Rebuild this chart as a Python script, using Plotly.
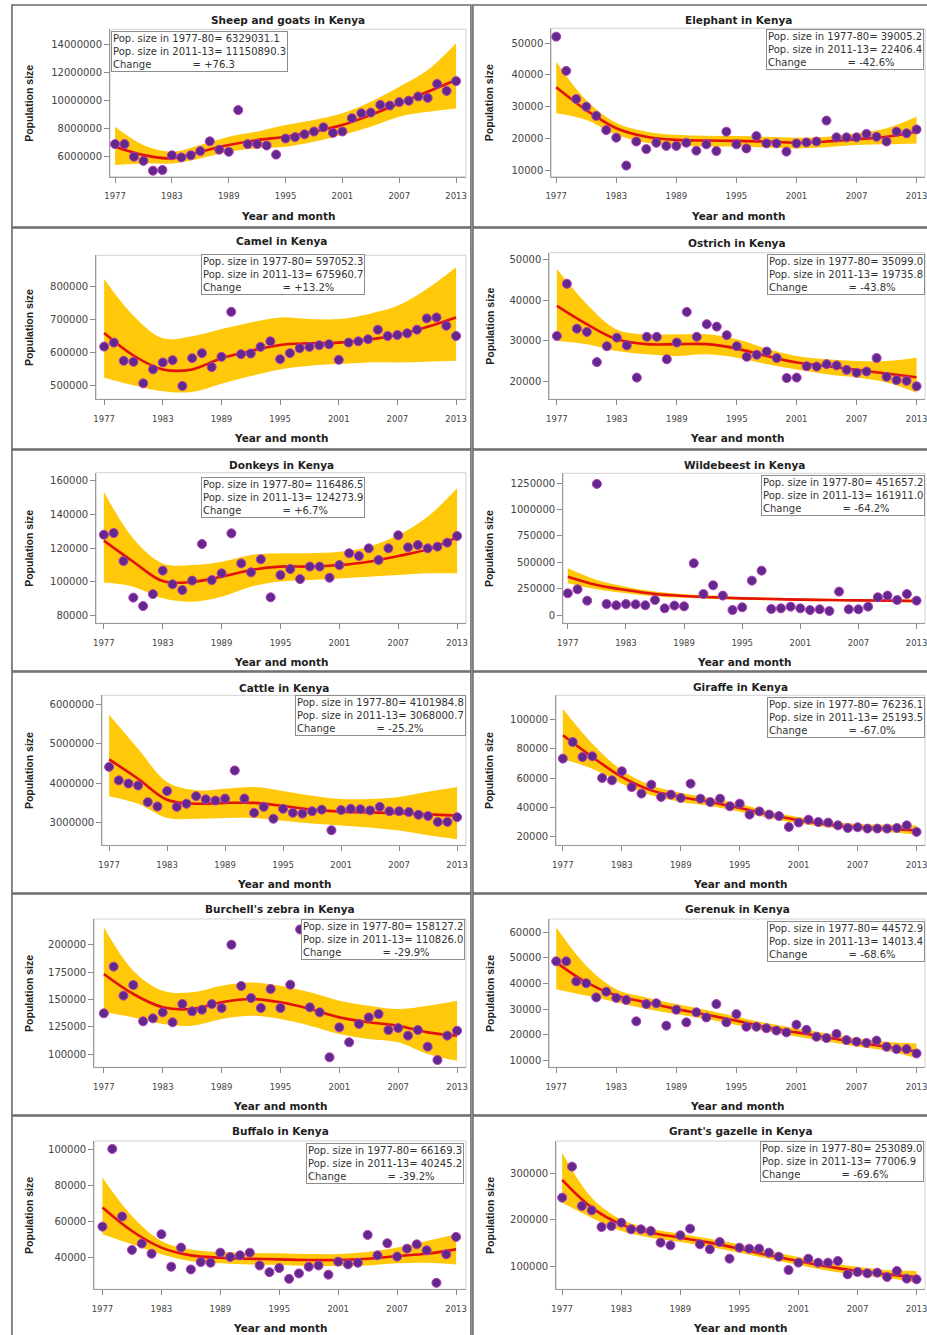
import plotly.graph_objects as go

W, H = 927, 1335

YEARS = [1977, 1978, 1979, 1980, 1981, 1982, 1983, 1984, 1985, 1986, 1987, 1988, 1989,
         1990, 1991, 1992, 1993, 1994, 1995, 1996, 1997, 1998, 1999, 2000, 2001, 2002,
         2003, 2004, 2005, 2006, 2007, 2008, 2009, 2010, 2011, 2012, 2013]
FIT_YEARS = [1977, 1980, 1983, 1986, 1989, 1992, 1995, 1998, 2001, 2004, 2007, 2010, 2013]
X_TICKS = [1977, 1983, 1989, 1995, 2001, 2007, 2013]
X_TICK_TEXT = ["1977", "1983", "1989", "1995", "2001", "2007", "2013"]

# ---------------- Sheep and goats ----------------
sheep_pop = [6.9e6, 6.9e6, 6.0e6, 5.7e6, 5.0e6, 5.05e6, 6.1e6, 5.95e6, 6.1e6, 6.4e6, 7.1e6, 6.5e6, 6.35e6,
             9.33e6, 6.9e6, 6.9e6, 6.8e6, 6.15e6, 7.3e6, 7.4e6, 7.6e6, 7.8e6, 8.1e6, 7.7e6, 7.8e6, 8.75e6,
             9.1e6, 9.15e6, 9.7e6, 9.65e6, 9.9e6, 10.0e6, 10.3e6, 10.2e6, 11.2e6, 10.7e6, 11.4e6]
sheep_fit = [6.71e6, 6.12e6, 5.88e6, 6.36e6, 6.83e6, 7.19e6, 7.43e6, 7.79e6, 8.26e6, 8.98e6, 9.81e6, 10.64e6, 11.48e6]
sheep_hi = [8.14e6, 6.83e6, 6.36e6, 6.83e6, 7.43e6, 7.79e6, 8.26e6, 8.62e6, 9.10e6, 9.93e6, 11.0e6, 12.19e6, 14.1e6]
sheep_lo = [5.40e6, 5.52e6, 5.52e6, 5.88e6, 6.36e6, 6.60e6, 6.71e6, 7.07e6, 7.55e6, 8.14e6, 8.86e6, 9.21e6, 9.45e6]
sheep_yticks = [6000000, 8000000, 10000000, 12000000, 14000000]
sheep_note = ["Pop. size in 1977-80= 6329031.1", "Pop. size in 2011-13= 11150890.3", "+76.3"]

# ---------------- Elephant ----------------
elephant_pop = [52100, 41300, 32400, 30000, 27100, 22600, 20200, 11400, 19000, 16600, 18600, 17600, 17600,
                18600, 16100, 18100, 16000, 22100, 18100, 16800, 20700, 18400, 18400, 15800, 18400, 18700,
                19000, 25600, 20300, 20300, 20300, 21400, 20500, 19000, 22100, 21600, 22800]
elephant_fit = [36100, 28900, 23200, 20500, 19500, 19300, 19200, 19000, 18600, 19000, 19700, 20500, 22100]
elephant_hi = [44200, 32100, 24900, 22100, 21100, 20800, 20700, 20500, 20200, 20500, 21600, 23200, 26800]
elephant_lo = [27900, 25800, 21100, 18600, 17900, 17400, 17400, 17100, 16800, 17200, 17900, 18100, 18400]
elephant_yticks = [10000, 20000, 30000, 40000, 50000]
elephant_note = ["Pop. size in 1977-80= 39005.2", "Pop. size in 2011-13= 22406.4", "-42.6%"]

# ---------------- Camel ----------------
camel_pop = [617e3, 629e3, 574e3, 571e3, 506e3, 548e3, 569e3, 576e3, 498e3, 582e3, 597e3, 555e3, 586e3,
             722e3, 594e3, 596e3, 616e3, 633e3, 579e3, 597e3, 612e3, 616e3, 621e3, 624e3, 577e3, 629e3,
             633e3, 639e3, 668e3, 649e3, 652e3, 657e3, 668e3, 702e3, 705e3, 680e3, 649e3]
camel_fit = [658e3, 590e3, 548e3, 548e3, 582e3, 604e3, 622e3, 627e3, 629e3, 638e3, 652e3, 676e3, 705e3]
camel_hi = [821e3, 710e3, 642e3, 648e3, 670e3, 690e3, 705e3, 700e3, 700e3, 715e3, 740e3, 791e3, 857e3]
camel_lo = [523e3, 500e3, 482e3, 480e3, 505e3, 528e3, 548e3, 559e3, 564e3, 569e3, 569e3, 571e3, 574e3]
camel_yticks = [500000, 600000, 700000, 800000]
camel_note = ["Pop. size in 1977-80= 597052.3", "Pop. size in 2011-13= 675960.7", "+13.2%"]

# ---------------- Ostrich ----------------
ostrich_pop = [31200, 44000, 33000, 32200, 24800, 28700, 30800, 28900, 21000, 31000, 31000, 25500, 29600,
               37100, 31000, 34100, 33500, 31400, 28700, 26100, 26600, 27400, 25800, 20900, 21000, 23800,
               23700, 24300, 24000, 22900, 22200, 22500, 25800, 21200, 20400, 20200, 18900]
ostrich_fit = [38600, 34100, 30400, 29200, 29200, 29200, 28100, 26300, 24700, 23800, 22900, 22000, 21100]
ostrich_hi = [47600, 39000, 32800, 31600, 31600, 31600, 30400, 28100, 26300, 25500, 25100, 25100, 25900]
ostrich_lo = [30000, 29200, 27500, 26700, 26300, 26700, 25900, 24300, 23000, 21800, 21000, 19800, 17300]
ostrich_yticks = [20000, 30000, 40000, 50000]
ostrich_note = ["Pop. size in 1977-80= 35099.0", "Pop. size in 2011-13= 19735.8", "-43.8%"]

# ---------------- Donkeys ----------------
donkey_pop = [128000, 129000, 112400, 90700, 85700, 92800, 106700, 98600, 95200, 100800, 122500, 101100, 105100,
              128800, 111000, 105700, 113400, 90900, 104100, 107700, 101700, 109100, 109100, 102500, 110000, 117000,
              115400, 119900, 113000, 119900, 127600, 120500, 121900, 119900, 120900, 123300, 127200]
donkey_fit = [124500, 112000, 100500, 100000, 103100, 107100, 109100, 109100, 110000, 112000, 115400, 119300, 126400]
donkey_hi = [153500, 125800, 111000, 110000, 112000, 116000, 117000, 117000, 117900, 120900, 127800, 138700, 155500]
donkey_lo = [99600, 97200, 90300, 88300, 91300, 97200, 100200, 101100, 102100, 103100, 104100, 105100, 105100]
donkey_yticks = [80000, 100000, 120000, 140000, 160000]
donkey_note = ["Pop. size in 1977-80= 116486.5", "Pop. size in 2011-13= 124273.9", "+6.7%"]

# ---------------- Wildebeest ----------------
wildebeest_pop = [206e3, 244e3, 136e3, 1244e3, 104e3, 92e3, 104e3, 101e3, 92e3, 142e3, 63e3, 89e3, 82e3,
                  491e3, 199e3, 282e3, 184e3, 47e3, 73e3, 326e3, 421e3, 57e3, 63e3, 79e3, 63e3, 47e3,
                  54e3, 38e3, 222e3, 54e3, 54e3, 79e3, 168e3, 184e3, 142e3, 199e3, 136e3]
wildebeest_fit = [364e3, 285e3, 237e3, 199e3, 180e3, 168e3, 158e3, 152e3, 146e3, 142e3, 139e3, 136e3, 133e3]
wildebeest_hi = [443e3, 332e3, 269e3, 222e3, 198e3, 184e3, 172e3, 165e3, 158e3, 154e3, 151e3, 150e3, 150e3]
wildebeest_lo = [301e3, 244e3, 206e3, 178e3, 163e3, 153e3, 145e3, 139e3, 134e3, 130e3, 127e3, 123e3, 117e3]
wildebeest_yticks = [0, 250000, 500000, 750000, 1000000, 1250000]
wildebeest_note = ["Pop. size in 1977-80= 451657.2", "Pop. size in 2011-13= 161911.0", "-64.2%"]

# ---------------- Cattle ----------------
cattle_pop = [4.41e6, 4.07e6, 3.99e6, 3.94e6, 3.52e6, 3.41e6, 3.80e6, 3.40e6, 3.48e6, 3.67e6, 3.59e6, 3.56e6, 3.61e6,
              4.32e6, 3.61e6, 3.25e6, 3.40e6, 3.10e6, 3.35e6, 3.25e6, 3.23e6, 3.29e6, 3.33e6, 2.81e6, 3.32e6, 3.35e6,
              3.34e6, 3.31e6, 3.40e6, 3.29e6, 3.29e6, 3.27e6, 3.20e6, 3.17e6, 3.02e6, 3.02e6, 3.14e6]
cattle_fit = [4.60e6, 4.11e6, 3.58e6, 3.48e6, 3.50e6, 3.50e6, 3.42e6, 3.33e6, 3.28e6, 3.26e6, 3.24e6, 3.21e6, 3.18e6]
cattle_hi = [5.73e6, 4.87e6, 4.03e6, 3.82e6, 3.86e6, 3.90e6, 3.80e6, 3.68e6, 3.60e6, 3.60e6, 3.65e6, 3.78e6, 3.90e6]
cattle_lo = [3.67e6, 3.48e6, 3.12e6, 3.10e6, 3.12e6, 3.12e6, 3.05e6, 2.98e6, 2.93e6, 2.88e6, 2.80e6, 2.68e6, 2.58e6]
cattle_yticks = [3000000, 4000000, 5000000, 6000000]
cattle_note = ["Pop. size in 1977-80= 4101984.8", "Pop. size in 2011-13= 3068000.7", "-25.2%"]

# ---------------- Giraffe ----------------
giraffe_pop = [73300, 84700, 74400, 74900, 60000, 58400, 64600, 53800, 49300, 55400, 47000, 48600, 46300,
               56100, 45800, 43500, 45800, 40600, 42400, 34900, 37100, 34900, 33900, 26400, 29400, 31400,
               29800, 29400, 27500, 25700, 26200, 25300, 25300, 25300, 25700, 27500, 23000]
giraffe_fit = [89300, 74400, 60700, 51500, 47000, 43500, 39400, 34900, 31000, 28000, 26200, 25300, 24100]
giraffe_hi = [107500, 83500, 65300, 55000, 49900, 46300, 42400, 37100, 33300, 30300, 28400, 27900, 27500]
giraffe_lo = [72800, 66400, 56100, 48100, 43500, 40800, 36800, 32600, 28800, 26200, 24300, 22900, 21100]
giraffe_yticks = [20000, 40000, 60000, 80000, 100000]
giraffe_note = ["Pop. size in 1977-80= 76236.1", "Pop. size in 2011-13= 25193.5", "-67.0%"]

# ---------------- Burchell's zebra ----------------
zebra_pop = [137200, 179900, 153400, 163100, 129900, 132600, 138100, 129000, 145700, 139000, 140500, 145700, 142100,
             200000, 162200, 151200, 142100, 159500, 142100, 163400, 214000, 142700, 138100, 97000, 124400, 110700,
             127400, 133500, 136600, 122000, 123800, 116800, 122000, 106700, 94500, 116800, 121300]
zebra_fit = [173200, 154900, 142700, 141200, 147300, 150300, 147300, 141200, 133500, 129000, 125900, 119800, 116800]
zebra_hi = [215900, 176200, 157900, 156400, 162500, 165500, 162500, 156400, 148800, 144200, 141200, 144200, 148800]
zebra_lo = [138100, 133500, 127400, 125900, 132000, 135100, 132000, 125900, 118300, 113700, 110700, 100000, 93900]
zebra_yticks = [100000, 125000, 150000, 175000, 200000]
zebra_note = ["Pop. size in 1977-80= 158127.2", "Pop. size in 2011-13= 110826.0", "-29.9%"]

# ---------------- Gerenuk ----------------
gerenuk_pop = [48600, 48600, 40800, 40100, 34600, 36800, 34400, 33600, 25300, 32000, 32300, 23600, 29800,
               24900, 28800, 26800, 32000, 24900, 28100, 23200, 23200, 22600, 21700, 21000, 24000, 22000,
               19300, 18800, 20400, 18000, 17400, 16900, 17800, 15400, 14500, 14500, 12800]
gerenuk_fit = [48200, 40400, 35300, 32700, 30100, 27900, 25500, 23000, 21000, 19100, 17100, 15400, 13600]
gerenuk_hi = [61800, 46900, 37800, 34600, 32000, 29700, 27200, 24600, 22600, 20600, 18700, 17400, 16700]
gerenuk_lo = [37800, 35300, 32700, 30100, 28100, 26200, 23900, 21400, 19400, 17500, 15500, 13900, 11000]
gerenuk_yticks = [10000, 20000, 30000, 40000, 50000, 60000]
gerenuk_note = ["Pop. size in 1977-80= 44572.9", "Pop. size in 2011-13= 14013.4", "-68.6%"]

# ---------------- Buffalo ----------------
buffalo_pop = [57200, 100200, 62800, 44300, 47800, 42200, 53000, 35000, 45600, 33500, 37600, 37200, 42800,
               40400, 41300, 42800, 35700, 32000, 34300, 28300, 31300, 35000, 35700, 30600, 37800, 36300,
               37200, 52600, 41300, 48000, 40600, 45000, 47400, 44100, 26100, 41900, 51500]
buffalo_fit = [67800, 54800, 45600, 41300, 40000, 39400, 39100, 38700, 38700, 39400, 40900, 42200, 44600]
buffalo_hi = [84400, 63100, 49300, 44600, 43100, 42600, 42400, 42000, 42000, 43100, 45600, 49300, 53000]
buffalo_lo = [53000, 47400, 41900, 38100, 36900, 36300, 35900, 35400, 35400, 35700, 36900, 37200, 36300]
buffalo_yticks = [40000, 60000, 80000, 100000]
buffalo_note = ["Pop. size in 1977-80= 66169.3", "Pop. size in 2011-13= 40245.2", "-39.2%"]

# ---------------- Grant's gazelle ----------------
gazelle_pop = [247500, 314400, 229500, 220100, 184200, 186300, 193500, 179100, 179100, 175500, 150400, 144600, 166200,
               180600, 146800, 136000, 151800, 115800, 139600, 137400, 137400, 128800, 120100, 91400, 107200, 115800,
               107200, 107200, 110800, 82000, 87100, 84200, 85600, 76300, 89200, 72700, 71200]
gazelle_fit = [285600, 225900, 189900, 171900, 161200, 150400, 137400, 123000, 110800, 98600, 89200, 82000, 76300]
gazelle_hi = [344600, 247500, 200700, 180600, 169800, 159000, 146800, 132400, 119400, 107200, 98600, 91400, 89200]
gazelle_lo = [236700, 204300, 175500, 161200, 151800, 141000, 128800, 115800, 102200, 89900, 80600, 74100, 64000]
gazelle_yticks = [100000, 200000, 300000]
gazelle_note = ["Pop. size in 1977-80= 253089.0", "Pop. size in 2011-13= 77006.9", "-69.6%"]

PANELS = [
    ("Sheep and goats in Kenya", sheep_pop, sheep_fit, sheep_hi, sheep_lo, sheep_yticks, sheep_note),
    ("Elephant in Kenya", elephant_pop, elephant_fit, elephant_hi, elephant_lo, elephant_yticks, elephant_note),
    ("Camel in Kenya", camel_pop, camel_fit, camel_hi, camel_lo, camel_yticks, camel_note),
    ("Ostrich in Kenya", ostrich_pop, ostrich_fit, ostrich_hi, ostrich_lo, ostrich_yticks, ostrich_note),
    ("Donkeys in Kenya", donkey_pop, donkey_fit, donkey_hi, donkey_lo, donkey_yticks, donkey_note),
    ("Wildebeest in Kenya", wildebeest_pop, wildebeest_fit, wildebeest_hi, wildebeest_lo, wildebeest_yticks, wildebeest_note),
    ("Cattle in Kenya", cattle_pop, cattle_fit, cattle_hi, cattle_lo, cattle_yticks, cattle_note),
    ("Giraffe in Kenya", giraffe_pop, giraffe_fit, giraffe_hi, giraffe_lo, giraffe_yticks, giraffe_note),
    ("Burchell's zebra in Kenya", zebra_pop, zebra_fit, zebra_hi, zebra_lo, zebra_yticks, zebra_note),
    ("Gerenuk in Kenya", gerenuk_pop, gerenuk_fit, gerenuk_hi, gerenuk_lo, gerenuk_yticks, gerenuk_note),
    ("Buffalo in Kenya", buffalo_pop, buffalo_fit, buffalo_hi, buffalo_lo, buffalo_yticks, buffalo_note),
    ("Grant's gazelle in Kenya", gazelle_pop, gazelle_fit, gazelle_hi, gazelle_lo, gazelle_yticks, gazelle_note),
]

# ---------------- geometry (pixels) ----------------
# L,R,T,B: plot box; x77/x13: pixel of 1977/2013; tlo/thi: pixel of first/last y tick;
# ty: title centre y; nx, ny: note box top-left
GEOM = [
    dict(L=105, R=464, T=29.3, B=176.7, x77=110, x13=454, tlo=156.7, thi=44.7, ty=20, nx=106, ny=31),
    dict(L=550, R=927, T=28.3, B=176.7, x77=555, x13=918.5, tlo=170, thi=43.3, ty=20, nx=767, ny=29),
    dict(L=91, R=464, T=255.3, B=399.3, x77=99, x13=454, tlo=385.3, thi=286, ty=241, nx=197, ny=254),
    dict(L=548, R=927, T=252.7, B=399.3, x77=555.7, x13=918.5, tlo=381.7, thi=259.3, ty=243, nx=768, ny=254),
    dict(L=91, R=464, T=472.7, B=623.3, x77=98.7, x13=455, tlo=615.7, thi=480.7, ty=465, nx=197, ny=477),
    dict(L=562, R=927, T=473.3, B=623.3, x77=566.7, x13=918.5, tlo=615, thi=483.3, ty=465, nx=762, ny=475),
    dict(L=97, R=464, T=695.3, B=845.3, x77=104, x13=455, tlo=822.7, thi=704, ty=688, nx=292, ny=695),
    dict(L=555, R=927, T=695.3, B=845.3, x77=561.7, x13=918.5, tlo=836.3, thi=719.7, ty=687, nx=768, ny=697),
    dict(L=89, R=464, T=919, B=1067.3, x77=98.7, x13=455, tlo=1054, thi=944.7, ty=909, nx=298, ny=919),
    dict(L=548, R=927, T=919, B=1067.3, x77=555, x13=918.5, tlo=1060.7, thi=932, ty=909, nx=768, ny=921),
    dict(L=89, R=464, T=1141, B=1289.3, x77=97.3, x13=454, tlo=1257.7, thi=1149.3, ty=1131, nx=303, ny=1143),
    dict(L=555, R=927, T=1141, B=1289.3, x77=561, x13=918.5, tlo=1266, thi=1173.3, ty=1131, nx=761, ny=1141),
]

CELL_ROWS = [(5, 227), (228, 449), (450, 671), (672, 893), (894, 1115), (1116, 1345)]
CELL_COLS = [(6, 469), (471, 940)]

BAND = "#FFC90A"
RED = "#E3120B"
PURPLE = "#63288E"
PURPLE_EDGE = "#B13DB6"
NB = "\u00a0"


def px(x):
    return x / W


def py(y):
    return 1 - y / H


fig = go.Figure()
annotations = []
shapes = []
layout_axes = {}

for i, ((title, pop, fit, hi, lo, yticks, note), g) in enumerate(zip(PANELS, GEOM), start=1):
    sfx = "" if i == 1 else str(i)
    xa, ya = "x" + sfx, "y" + sfx
    common = dict(xaxis=xa, yaxis=ya, showlegend=False, hoverinfo="skip")
    fig.add_trace(go.Scatter(x=FIT_YEARS, y=hi, mode="lines",
                             line=dict(width=0, color=BAND, shape="spline"), **common))
    fig.add_trace(go.Scatter(x=FIT_YEARS, y=lo, mode="lines", fill="tonexty", fillcolor=BAND,
                             line=dict(width=0, color=BAND, shape="spline"), **common))
    fig.add_trace(go.Scatter(x=FIT_YEARS, y=fit, mode="lines",
                             line=dict(width=2.6, color=RED, shape="spline"), **common))
    fig.add_trace(go.Scatter(x=YEARS, y=pop, mode="markers",
                             marker=dict(size=9, color=PURPLE, line=dict(width=1, color=PURPLE_EDGE)),
                             **common))

    ppy = (g["x13"] - g["x77"]) / 36.0
    xmin = 1977 - (g["x77"] - g["L"]) / ppy
    xmax = 2013 + (g["R"] - g["x13"]) / ppy
    v0, v1 = yticks[0], yticks[-1]
    vpp = (v1 - v0) / (g["tlo"] - g["thi"])
    ymin = v0 - (g["B"] - g["tlo"]) * vpp
    ymax = v1 + (g["thi"] - g["T"]) * vpp

    layout_axes["xaxis" + sfx] = dict(
        domain=[px(g["L"]), px(g["R"])], range=[xmin, xmax], anchor=ya,
        tickvals=X_TICKS, ticktext=X_TICK_TEXT, ticks="outside", ticklen=5, tickcolor="#8a8a8a",
        showline=True, linecolor="#9a9a9a", linewidth=1, showgrid=False, zeroline=False,
        tickfont=dict(family="DejaVu Sans", size=8.5, color="#444"), ticklabelstandoff=6,
        ticklabeloverflow="allow", fixedrange=True)
    layout_axes["yaxis" + sfx] = dict(
        domain=[py(g["B"]), py(g["T"])], range=[ymin, ymax], anchor=xa,
        tickvals=yticks, tickformat="d", ticks="outside", ticklen=5, tickcolor="#8a8a8a",
        showline=True, linecolor="#9a9a9a", linewidth=1, showgrid=False, zeroline=False,
        tickfont=dict(family="DejaVu Sans", size=10, color="#444"), fixedrange=True)

    # plot region frame
    shapes.append(dict(type="rect", xref="paper", yref="paper", x0=px(g["L"]), x1=px(g["R"]),
                       y0=py(g["B"]), y1=py(g["T"]), line=dict(color="#d2d2d2", width=1), layer="below"))

    cx = (g["L"] + g["R"]) / 2
    annotations.append(dict(text=title, xref="paper", yref="paper", x=px(cx), y=py(g["ty"]),
                            xanchor="center", yanchor="middle", showarrow=False,
                            font=dict(family="DejaVu Sans", size=10.5, color="#1e1e1e", weight="bold")))
    annotations.append(dict(text="Year and month", xref="paper", yref="paper", x=px(cx),
                            y=py(g["B"] + 39), xanchor="center", yanchor="middle", showarrow=False,
                            font=dict(family="DejaVu Sans", size=10.5, color="#1e1e1e", weight="bold")))
    yx = 23 if g["L"] < 300 else 488
    annotations.append(dict(text="Population size", xref="paper", yref="paper", x=px(yx),
                            y=py((g["T"] + g["B"]) / 2), xanchor="center", yanchor="middle",
                            textangle=-90, showarrow=False,
                            font=dict(family="Liberation Sans", size=10.5, color="#1e1e1e", weight="bold")))
    note_text = (note[0] + "<br>" + note[1] + "<br>Change" + NB * 13 + "=" + NB + note[2])
    annotations.append(dict(text=note_text, xref="paper", yref="paper", x=px(g["nx"]), y=py(g["ny"]),
                            xanchor="left", yanchor="top", align="left", showarrow=False,
                            bgcolor="white", bordercolor="#8c8c8c", borderwidth=1, borderpad=1,
                            font=dict(family="DejaVu Sans", size=10, color="#333")))

# panel cell borders
for (y0, y1) in CELL_ROWS:
    for (x0, x1) in CELL_COLS:
        shapes.append(dict(type="rect", xref="paper", yref="paper", x0=px(x0), x1=px(x1),
                           y0=py(y1), y1=py(y0), line=dict(color="#6a6a6a", width=1.6), layer="above"))

fig.update_layout(width=W, height=H, margin=dict(l=0, r=0, t=0, b=0),
                  paper_bgcolor="white", plot_bgcolor="white", showlegend=False,
                  annotations=annotations, shapes=shapes, **layout_axes)

fig.write_html("out.html", config={"displayModeBar": False, "staticPlot": True},
               post_script="document.body.style.margin='0';document.body.style.padding='0';"
                           "document.body.style.overflow='hidden';")
